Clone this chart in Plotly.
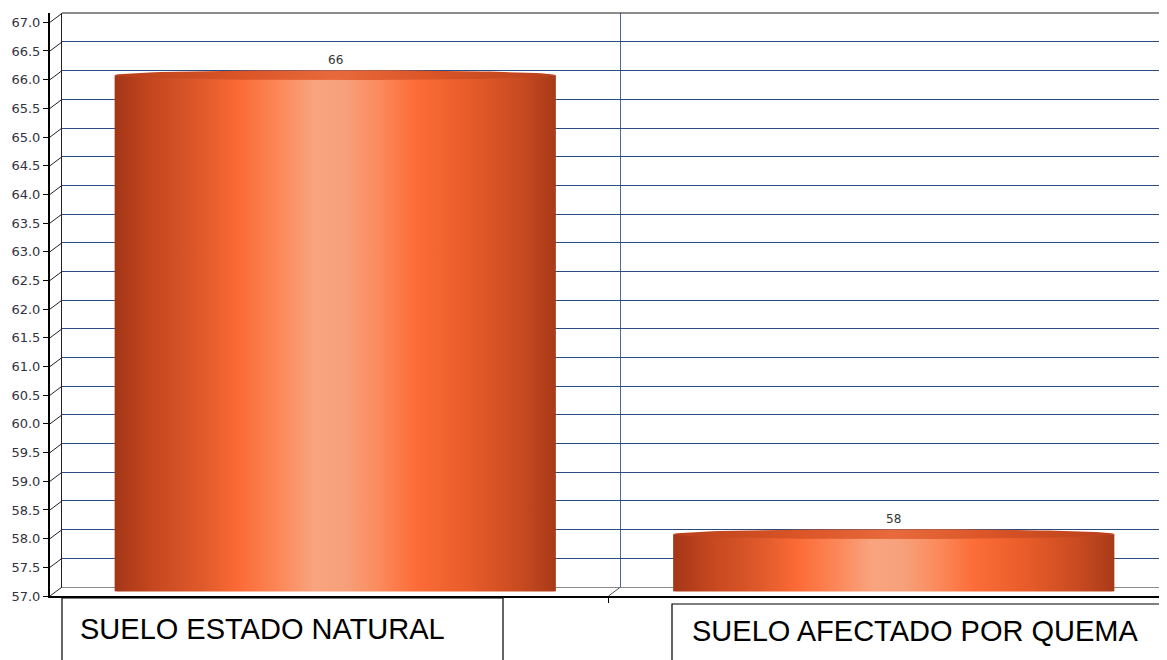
import numpy as np
import plotly.graph_objects as go

# ---- data ----
categories = ["SUELO ESTADO NATURAL", "SUELO AFECTADO POR QUEMA"]
values = [66, 58]
tick_values = [57.0 + 0.5 * i for i in range(21)]
tick_labels = [f"{t:.1f}" for t in tick_values]

# ---- style / geometry constants ----
Y_MIN = 57.0
PX_PER_UNIT = 57.37          # vertical pixels per value unit
PX_PER_CAT = 558.5           # horizontal pixels per category
PLOT_W, PLOT_H = 1117, 583
DEPTH_X, DEPTH_Y = 12, 9     # 3D depth offset of back wall (px)
BAR_W = 0.79
ELL = 5 / PX_PER_UNIT        # half height of cylinder ellipse (value units)
PAGE_OFF = 8                 # default body margin of the html page

body_scale = [
    [0.00, "#a33617"], [0.08, "#c4461f"], [0.20, "#e05a2b"], [0.28, "#fb6a35"],
    [0.38, "#fc8a5c"], [0.45, "#f9a37f"], [0.52, "#f7a07c"], [0.60, "#fb8a5c"],
    [0.68, "#fc6d38"], [0.80, "#e85c2a"], [0.92, "#c84a20"], [1.00, "#a83a18"],
]
top_scale = [
    [0.0, "#b8401b"], [0.3, "#dc5628"], [0.5, "#e86a3c"], [0.7, "#dc5628"], [1.0, "#b8401b"],
]

fig = go.Figure()

# dummy trace so the back-wall subplot exists
fig.add_trace(go.Scatter(x=[], y=[], xaxis="x", yaxis="y", showlegend=False, hoverinfo="skip"))

# cylinders (mid-depth subplot x2/y2)
for i, (cat, v) in enumerate(zip(categories, values)):
    c = i
    hw = BAR_W / 2
    t = np.linspace(-1, 1, 60)
    bx = np.concatenate([[c - hw, c - hw, c + hw, c + hw], (c + hw * t)[::-1]])
    by = np.concatenate([[Y_MIN, v, v, Y_MIN], (Y_MIN - ELL * np.sqrt(1 - t ** 2))[::-1]])
    fig.add_trace(go.Scatter(
        x=bx, y=by, xaxis="x2", yaxis="y2", mode="lines", line=dict(width=0),
        fill="toself", fillgradient=dict(type="horizontal", colorscale=body_scale),
        showlegend=False, hoverinfo="skip"))
    th = np.linspace(0, 2 * np.pi, 120)
    fig.add_trace(go.Scatter(
        x=c + hw * np.cos(th), y=v + ELL * np.sin(th), xaxis="x2", yaxis="y2",
        mode="lines", line=dict(width=0), fill="toself",
        fillgradient=dict(type="horizontal", colorscale=top_scale),
        showlegend=False, hoverinfo="skip"))

fig.add_trace(go.Scatter(x=[], y=[], xaxis="x3", yaxis="y3", showlegend=False, hoverinfo="skip"))

grid_col = "#2b4c80"
font_tick = dict(family="DejaVu Sans", size=13, color="#333340")

fig.update_layout(
    width=1167 - PAGE_OFF, height=660 - PAGE_OFF,
    margin=dict(l=50 - PAGE_OFF, r=0, t=13 - PAGE_OFF, b=64),
    paper_bgcolor="white", plot_bgcolor="rgba(0,0,0,0)",
    showlegend=False,
    # back wall
    xaxis=dict(domain=[DEPTH_X / PLOT_W, 1], anchor="y",
               range=[-0.5, -0.5 + (PLOT_W - DEPTH_X) / PX_PER_CAT],
               tickvals=[0.5], showticklabels=False, ticks="", showgrid=True,
               gridcolor="#4a6a90", gridwidth=1, showline=True, linecolor="#8c8c8c",
               zeroline=False),
    yaxis=dict(domain=[DEPTH_Y / PLOT_H, 1], anchor="x",
               range=[Y_MIN, Y_MIN + (PLOT_H - DEPTH_Y) / PX_PER_UNIT],
               tickvals=tick_values, showticklabels=False, ticks="", showgrid=True,
               gridcolor=grid_col, gridwidth=1, showline=True, linecolor="#222222",
               zeroline=False),
    # mid depth (bars)
    xaxis2=dict(domain=[DEPTH_X / 2 / PLOT_W, 1], anchor="y2",
                range=[-0.5, -0.5 + (PLOT_W - DEPTH_X / 2) / PX_PER_CAT], visible=False),
    yaxis2=dict(domain=[DEPTH_Y / 2 / PLOT_H, 1], anchor="x2",
                range=[Y_MIN, Y_MIN + (PLOT_H - DEPTH_Y / 2) / PX_PER_UNIT], visible=False),
    # front axes
    xaxis3=dict(domain=[0, 1], anchor="y3", range=[-0.5, 1.5], tickvals=[0.5],
                showticklabels=False, ticks="outside", ticklen=5, tickcolor="black",
                showgrid=False, showline=True, linecolor="black", linewidth=1.5,
                zeroline=False),
    yaxis3=dict(domain=[0, 1], anchor="x3", range=[Y_MIN, Y_MIN + PLOT_H / PX_PER_UNIT],
                tickvals=tick_values, ticktext=tick_labels, ticks="outside", ticklen=5,
                tickcolor="black", tickfont=font_tick, showgrid=False, showline=True,
                linecolor="black", linewidth=2, zeroline=False),
)

shapes = []
# top border of back wall
shapes.append(dict(type="line", xref="x domain", yref="y domain", x0=0, x1=1, y0=1, y1=1,
                   line=dict(color="#1a1a1a", width=1.2)))
# diagonal depth lines from front ticks to back wall
dx = DEPTH_X / PLOT_W
dy = DEPTH_Y / PX_PER_UNIT
for tv in tick_values:
    shapes.append(dict(type="line", xref="x3 domain", yref="y3", x0=0, x1=dx,
                       y0=tv, y1=tv + dy, line=dict(color="#222222", width=1)))
shapes.append(dict(type="line", xref="x3", yref="y3", x0=0.5, x1=0.5 + DEPTH_X / PX_PER_CAT,
                   y0=Y_MIN, y1=Y_MIN + dy, line=dict(color="#555555", width=1)))
# category label boxes (pixel positions relative to page)
box_specs = [(62, 503, 598), (672, 1200, 604)]
for (x0p, x1p, ytop) in box_specs:
    shapes.append(dict(type="rect", xref="paper", yref="paper",
                       x0=(x0p - 50) / PLOT_W, x1=(x1p - 50) / PLOT_W,
                       y0=-0.3, y1=(596 - ytop) / PLOT_H,
                       line=dict(color="black", width=1.2), fillcolor="white", layer="above"))
fig.update_layout(shapes=shapes)

annotations = []
# value labels
for i, v in enumerate(values):
    annotations.append(dict(x=i, y=v, xref="x2", yref="y2", text=str(v), showarrow=False,
                            yanchor="bottom", yshift=6,
                            font=dict(family="DejaVu Sans", size=12, color="#333333")))
# category labels
label_pos = [(78, 628.5), (690, 631.5)]
for cat, (xp, yp) in zip(categories, label_pos):
    annotations.append(dict(x=(xp - 50) / PLOT_W, y=(596 - yp) / PLOT_H, xref="paper", yref="paper",
                            text=cat, showarrow=False, xanchor="left", yanchor="middle",
                            font=dict(family="Liberation Sans", size=29, color="black")))
fig.update_layout(annotations=annotations)

fig.write_html("out.html")
